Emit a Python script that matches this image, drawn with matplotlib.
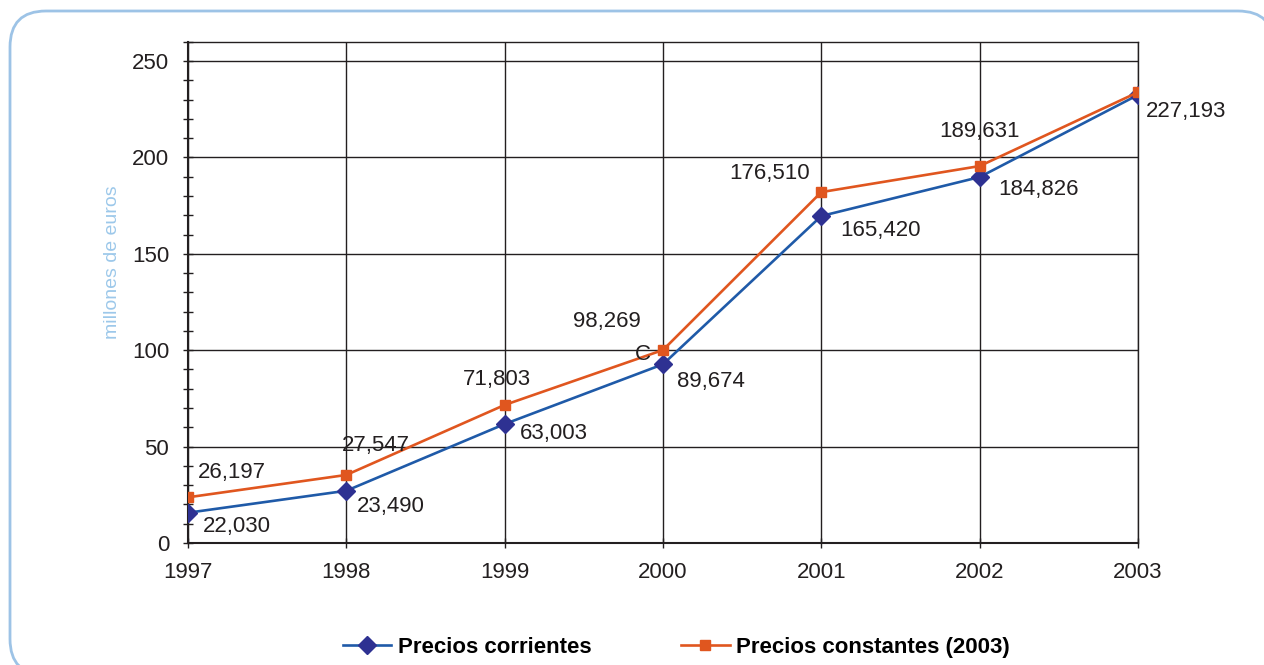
import matplotlib
matplotlib.use("Agg")
import matplotlib.pyplot as plt
from matplotlib.patches import FancyBboxPatch
from matplotlib.ticker import MultipleLocator

plt.rcParams['font.family'] = ['Liberation Sans', 'DejaVu Sans']

# data
years = [1997, 1998, 1999, 2000, 2001, 2002, 2003]
corrientes = [15.7, 27.1, 61.7, 92.7, 169.6, 189.8, 232.4]
constantes = [23.7, 35.3, 71.6, 100.1, 182.0, 195.5, 233.8]
labels_corr = ['22,030', '23,490', '63,003', '89,674', '165,420', '184,826', '227,193']
labels_const = ['26,197', '27,547', '71,803', '98,269', '176,510', '189,631', None]

# label offsets in pixels (dx, dy) from each point
off_corr = [(15, -14), (11, -16), (15, -9), (14, -17), (19, -15), (19, -12), (8, -17)]
off_const = [(10, 25), (-4, 29), (-42, 25), (-90, 28), (-92, 19), (-40, 35), None]

blue_line = '#1f5aa8'
blue_mark = '#2e3192'
orange = '#e0561f'
ink = '#231f20'

W, H = 1264, 665
fig = plt.figure(figsize=(W / 100, H / 100), dpi=100)

# rounded frame drawn in pixel coordinates on a background axes
bg = fig.add_axes([0, 0, 1, 1])
bg.set_xlim(0, W)
bg.set_ylim(0, H)
bg.axis('off')
# white fill keeps agg from clipping the off-canvas curve
frame = FancyBboxPatch((10, -10), 1264, 664,
                       boxstyle="round,pad=0,rounding_size=36",
                       facecolor='white', edgecolor='#9dc3e6', linewidth=2.0)
frame.set_clip_on(False)
bg.add_patch(frame)

ax = fig.add_axes([188 / W, 1 - 543 / H, 950 / W, 501.3 / H])
ax.patch.set_alpha(0)

ax.plot(years, corrientes, color=blue_line, lw=1.9, marker='D', ms=9.5,
        mfc=blue_mark, mec=blue_mark, label='Precios corrientes', zorder=4)
ax.plot(years, constantes, color=orange, lw=1.9, marker='s', ms=7,
        mfc=orange, mec=orange, label='Precios constantes (2003)', zorder=5)

px = 0.72  # points per pixel
for x, y, t, o in zip(years, corrientes, labels_corr, off_corr):
    ax.annotate(t, (x, y), xytext=(o[0] * px, o[1] * px), textcoords='offset points',
                ha='left', va='center', fontsize=16, color=ink, zorder=6)
for x, y, t, o in zip(years, constantes, labels_const, off_const):
    if t is None:
        continue
    ax.annotate(t, (x, y), xytext=(o[0] * px, o[1] * px), textcoords='offset points',
                ha='left', va='center', fontsize=16, color=ink, zorder=6)
# stray character in the original
ax.annotate('C', (years[3], constantes[3]), xytext=(-28 * px, -5 * px),
            textcoords='offset points', ha='left', va='center', fontsize=16,
            color=ink, zorder=6)

ax.set_xlim(1997, 2003)
ax.set_ylim(0, 260)
ax.set_xticks(years)
ax.set_yticks([0, 50, 100, 150, 200, 250])
ax.yaxis.set_minor_locator(MultipleLocator(10))
ax.tick_params(axis='both', which='both', direction='inout', length=7,
               width=1, colors=ink, labelsize=16)
ax.tick_params(axis='x', pad=10)
ax.tick_params(axis='y', pad=10)
ax.grid(True, which='major', color=ink, lw=1)
for s in ax.spines.values():
    s.set_color(ink)
    s.set_linewidth(1)
ax.spines['left'].set_linewidth(1.5)
ax.spines['bottom'].set_linewidth(1.5)

ax.set_ylabel('millones de euros', color='#9cc8ea', fontsize=14)
ax.yaxis.set_label_coords((121 - 188) / 950, (543 - 262) / 501.3)

fig.legend(loc='center', bbox_to_anchor=(0.535, 0.027), ncol=2, frameon=False,
           prop={'weight': 'bold', 'size': 16}, columnspacing=4, handlelength=2.2,
           handletextpad=0.3)

fig.savefig('out.png', dpi=100)
